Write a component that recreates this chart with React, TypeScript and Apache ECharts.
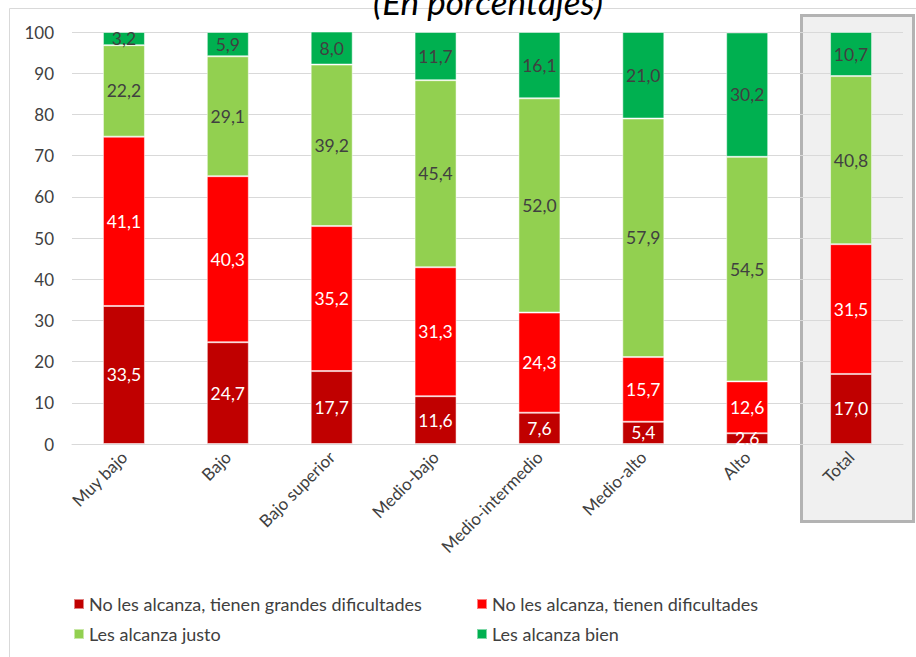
import React, { useEffect, useRef } from "react";
import * as echarts from "echarts";

const categories = ["Muy bajo", "Bajo", "Bajo superior", "Medio-bajo", "Medio-intermedio", "Medio-alto", "Alto", "Total"];
const seriesNames = [
  "No les alcanza, tienen grandes dificultades",
  "No les alcanza, tienen dificultades",
  "Les alcanza justo",
  "Les alcanza bien",
];
const grandesDificultades = [33.5, 24.7, 17.7, 11.6, 7.6, 5.4, 2.6, 17.0];
const dificultades = [41.1, 40.3, 35.2, 31.3, 24.3, 15.7, 12.6, 31.5];
const alcanzaJusto = [22.2, 29.1, 39.2, 45.4, 52.0, 57.9, 54.5, 40.8];
const alcanzaBien = [3.2, 5.9, 8.0, 11.7, 16.1, 21.0, 30.2, 10.7];
const yTicks = { min: 0, max: 100, interval: 10 };
const titleText = "(En porcentajes)";

const colors = ["#C00000", "#FF0000", "#92D050", "#00B050"];
const labelColors = ["#ffffff", "#ffffff", "#404040", "#404040"];
const FONT = "Lato, 'Open Sans', sans-serif";

export default function App() {
  const ref = useRef<HTMLDivElement>(null);
  useEffect(() => {
    if (!ref.current) return;
    const chart = echarts.init(ref.current, null, { renderer: "svg" });
    const values = [grandesDificultades, dificultades, alcanzaJusto, alcanzaBien];
    const legendPos = [
      { left: 73, top: 593 },
      { left: 476, top: 593 },
      { left: 73, top: 623 },
      { left: 476, top: 623 },
    ];
    chart.setOption({
      animation: false,
      textStyle: { fontFamily: FONT },
      graphic: [
        {
          type: "rect",
          z: -10,
          silent: true,
          shape: { x: 9.5, y: 8.5, width: 1000, height: 1000 },
          style: { fill: "#ffffff", stroke: "#d9d9d9", lineWidth: 1 },
        },
        {
          type: "rect",
          z: -5,
          silent: true,
          shape: { x: 801.5, y: 15.5, width: 112, height: 506 },
          style: { fill: "#f0f0f0", stroke: "#b3b3b3", lineWidth: 3 },
        },
        {
          type: "text",
          z: 10,
          x: 488,
          y: 18,
          style: {
            text: titleText,
            font: `italic 35px ${FONT}`,
            fill: "#000000",
            align: "center",
            verticalAlign: "bottom",
          },
        },
      ],
      grid: { left: 72, right: 13, top: 32, bottom: 213, containLabel: false },
      legend: seriesNames.map((n, i) => ({
        data: [n],
        left: legendPos[i].left,
        top: legendPos[i].top,
        icon: "rect",
        itemWidth: 10,
        itemHeight: 10,
        itemGap: 5,
        padding: 0,
        selectedMode: false,
        textStyle: { fontSize: 18, color: "#404040", fontFamily: FONT, lineHeight: 22 },
      })),
      xAxis: {
        type: "category",
        data: categories,
        axisTick: { show: false },
        axisLine: { lineStyle: { color: "#d9d9d9", width: 1 } },
        axisLabel: { rotate: 45, fontSize: 17, color: "#404040", margin: 10, fontFamily: FONT, interval: 0 },
      },
      yAxis: {
        type: "value",
        min: yTicks.min,
        max: yTicks.max,
        interval: yTicks.interval,
        axisLine: { show: false },
        axisTick: { show: false },
        splitLine: { lineStyle: { color: "#d9d9d9", width: 1 } },
        axisLabel: { fontSize: 17, color: "#404040", margin: 18, fontFamily: FONT },
      },
      series: seriesNames.map((n, i) => ({
        name: n,
        type: "bar",
        stack: "total",
        barWidth: 42,
        data: values[i],
        itemStyle: { color: colors[i], borderColor: "rgba(255,255,255,0.5)", borderWidth: 1 },
        label: {
          show: true,
          position: "inside",
          fontSize: 17.5,
          color: labelColors[i],
          fontFamily: FONT,
          formatter: (p: any) => Number(p.value).toFixed(1).replace(".", ","),
        },
      })),
    });
    return () => chart.dispose();
  }, []);
  return (
    <div
      ref={ref}
      style={{ position: "fixed", left: 0, top: 0, width: 916, height: 657, background: "#ffffff" }}
    />
  );
}
